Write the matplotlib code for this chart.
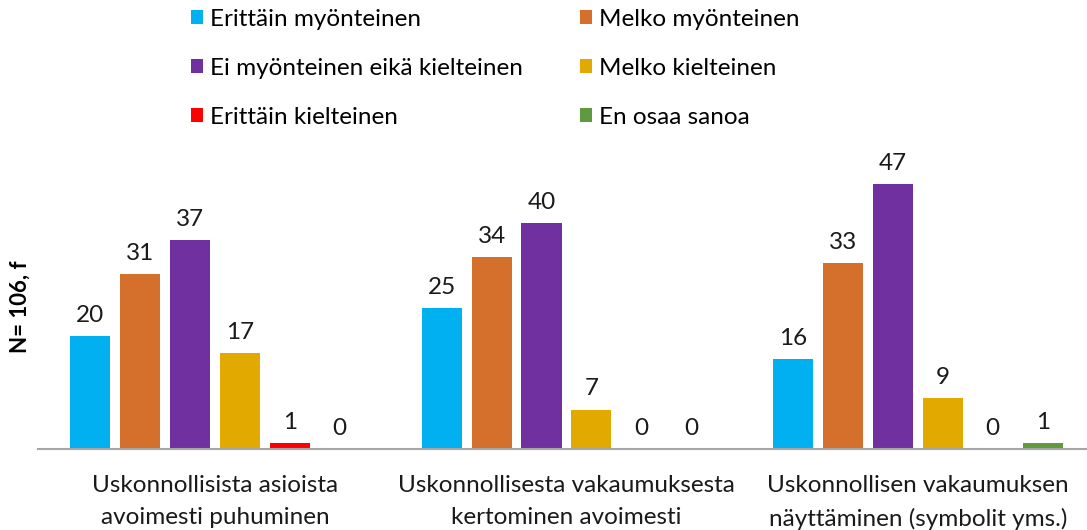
import numpy as np
import matplotlib.pyplot as plt

plt.rcParams['font.family'] = ['Lato', 'DejaVu Sans']

categories = ['Uskonnollisista asioista\navoimesti puhuminen',
              'Uskonnollisesta vakaumuksesta\nkertominen avoimesti',
              'Uskonnollisen vakaumuksen\nnäyttäminen (symbolit yms.)']
series = ['Erittäin myönteinen', 'Melko myönteinen', 'Ei myönteinen eikä kielteinen',
          'Melko kielteinen', 'Erittäin kielteinen', 'En osaa sanoa']
values = [[20, 25, 16],
          [31, 34, 33],
          [37, 40, 47],
          [17, 7, 9],
          [1, 0, 0],
          [0, 0, 1]]
colors = ['#00B0F0', '#D4702C', '#7030A0', '#E2AA00', '#FF0000', '#5F9A3E']

fs = 17.5
fig = plt.figure(figsize=(10.87, 5.3), dpi=100)
ax = fig.add_axes([38 / 1087, 81 / 530, 1049 / 1087, 299 / 530])

x = np.arange(len(categories))
step = 0.142
width = 0.114
handles = []
for i, (name, vals, c) in enumerate(zip(series, values, colors)):
    pos = x + (i - 2.5) * step
    b = ax.bar(pos, vals, width, color=c, label=name)
    handles.append(b)
    for p, v in zip(pos, vals):
        ax.text(p, v + 1.8, str(v), ha='center', va='bottom', fontsize=fs, color='#1a1a1a')

ax.set_xlim(-0.5036, 2.481)
ax.set_ylim(0, 53)
ax.set_xticks(x)
ax.set_xticklabels(categories, fontsize=fs, linespacing=1.65, color='#1a1a1a')
ax.tick_params(axis='x', length=0, pad=19)
ax.set_yticks([])
for s in ['top', 'right', 'left']:
    ax.spines[s].set_visible(False)
ax.spines['bottom'].set_color('#A6A6A6')
ax.spines['bottom'].set_linewidth(1.5)

fig.text(20 / 1087, 1 - 307 / 530, 'N= 106, f', rotation=90, fontsize=16,
         fontweight='bold', ha='center', va='center')

# two legend columns placed separately
cols = [[0, 2, 4], [1, 3, 5]]
for xpos, idx in zip([191 / 1087, 580 / 1087], cols):
    fig.legend([handles[i] for i in idx], [series[i] for i in idx],
               loc='upper left', bbox_to_anchor=(xpos, 1 - 9 / 530), frameon=False,
               fontsize=fs, handlelength=0.5, handleheight=0.5, handletextpad=0.3,
               labelspacing=1.15, borderpad=0, borderaxespad=0)

fig.savefig('out.png', dpi=100)
